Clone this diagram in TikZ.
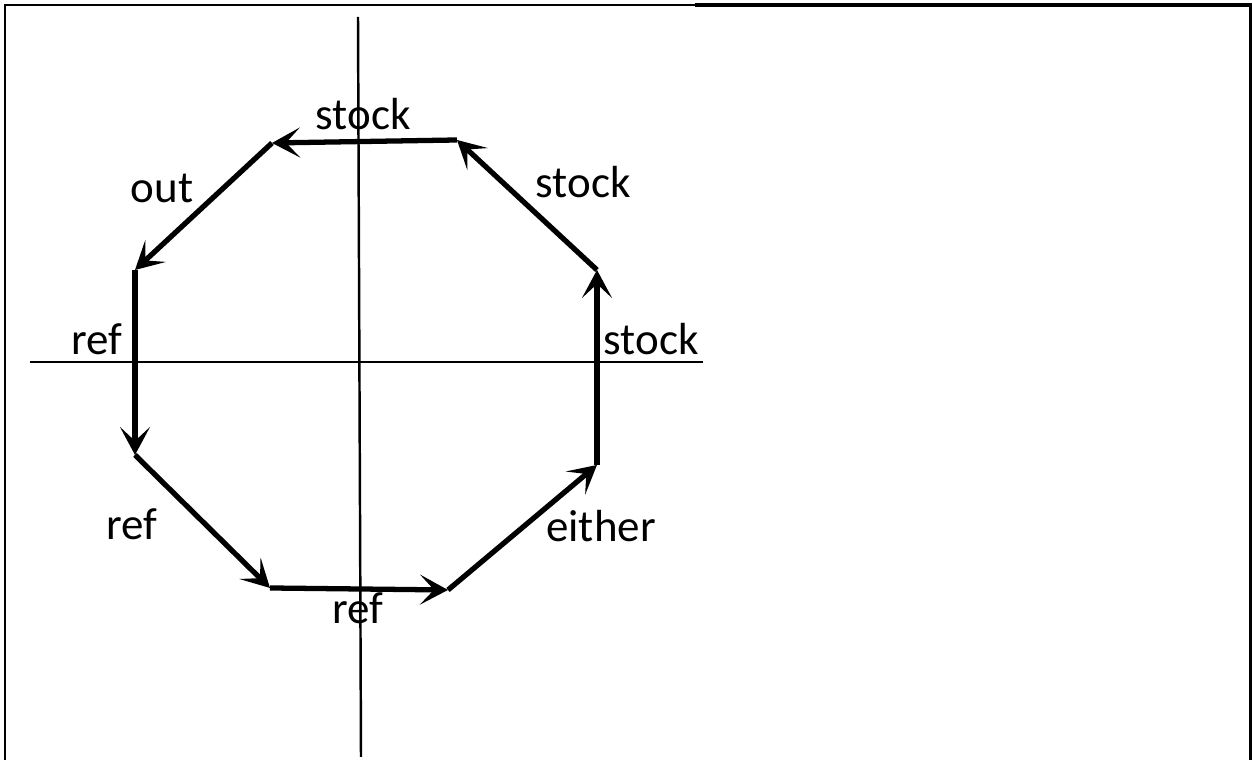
\documentclass[tikz,border=0pt]{standalone}
\usepackage{fontspec}
\setmainfont{Carlito}
\usetikzlibrary{arrows.meta}

\tikzset{
    flow/.style={line width=1.5pt, -{Stealth[length=2.8mm, width=3mm, inset=1.4mm]}},
    axisline/.style={line width=0.7pt},
    lbl/.style={inner sep=0pt, anchor=base, font=\fontsize{12.8}{15}\selectfont},
}

\begin{document}
\begin{tikzpicture}
    \useasboundingbox (0, 0) rectangle (12.52, 7.6);
    % frame
    \draw[line width=0.8pt] (0.05, 0) -- (0.05, 7.55) -- (6.95, 7.55);
    \draw[line width=1.1pt] (6.95, 7.55) -- (12.51, 7.55) -- (12.51, 0);
    % axes
    \draw[axisline] (0.30, 3.98) -- (7.03, 3.98);
    \draw[axisline] (3.58, 7.43) -- (3.61, 0.03);
    % corners of the octagon
    \coordinate (tr) at (4.57, 6.20);
    \coordinate (tl) at (2.72, 6.17);
    \coordinate (lt) at (1.35, 4.90);
    \coordinate (lb) at (1.35, 3.05);
    \coordinate (bl) at (2.70, 1.72);
    \coordinate (br) at (4.48, 1.70);
    \coordinate (rb) at (5.97, 2.95);
    \coordinate (rt) at (5.97, 4.90);
    \draw[flow] (tr) -- (tl);
    \draw[flow] (tl) -- (lt);
    \draw[flow] (lt) -- (lb);
    \draw[flow] (lb) -- (bl);
    \draw[flow] (bl) -- (br);
    \draw[flow] (br) -- (rb);
    \draw[flow] (rb) -- (rt);
    \draw[flow] (rt) -- (tr);
    % labels
    \node[lbl] (stockTop) at (3.63, 6.30) {stock};
    \node[lbl] (outTL) at (1.62, 5.57) {out};
    \node[lbl] (stockTR) at (5.83, 5.62) {stock};
    \node[lbl] (refL) at (0.97, 4.05) {ref};
    \node[lbl] (stockR) at (6.51, 4.05) {stock};
    \node[lbl] (refBL) at (1.32, 2.20) {ref};
    \node[lbl] (eitherBR) at (6.01, 2.18) {either};
    \node[lbl] (refB) at (3.58, 1.36) {ref};
\end{tikzpicture}
\end{document}
